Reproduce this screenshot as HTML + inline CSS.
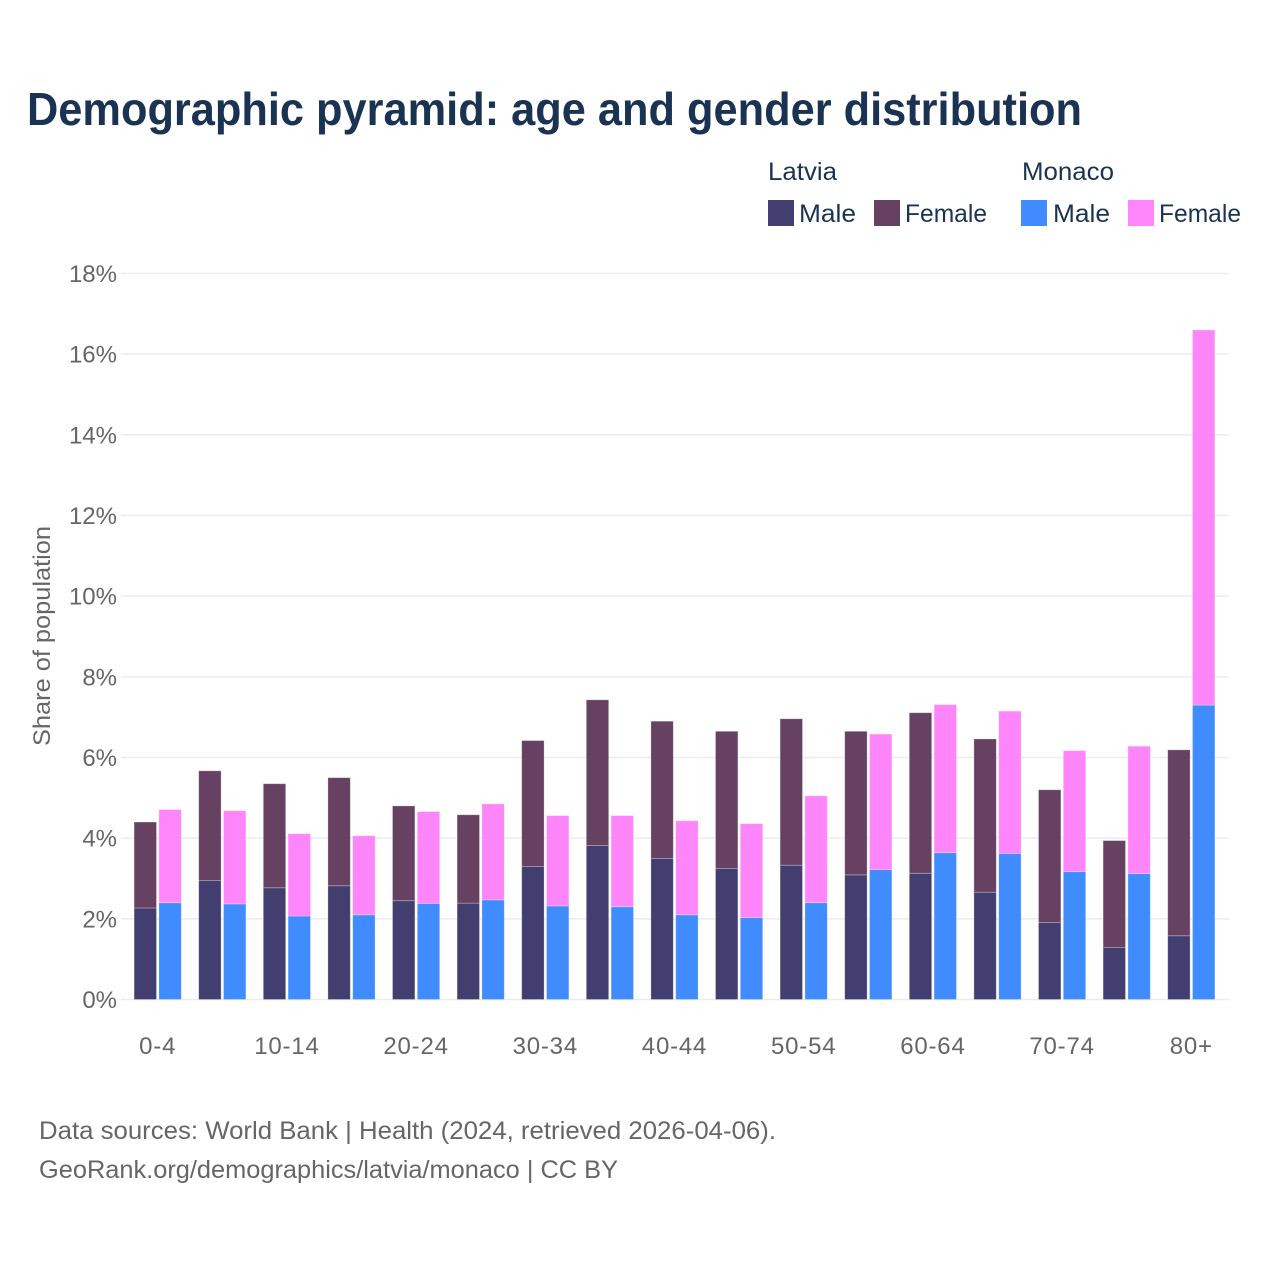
<!DOCTYPE html>
<html lang="en">
<head>
<meta charset="utf-8">
<title>Demographic pyramid: age and gender distribution</title>
<style>
html,body{margin:0;padding:0;background:#fff;width:1280px;height:1280px;overflow:hidden}
svg{display:block}
text{font-family:"Liberation Sans",sans-serif}
</style>
</head>
<body>
<svg id="chart" width="1280" height="1280" viewBox="0 0 1280 1280" xmlns="http://www.w3.org/2000/svg">
  <rect width="1280" height="1280" fill="#fff"/>
  <text x="27" y="125" font-size="46" font-weight="700" fill="#1a3353" textLength="1055" lengthAdjust="spacingAndGlyphs">Demographic pyramid: age and gender distribution</text>

  <g font-size="25" fill="#1a3353">
    <text x="768" y="180" textLength="69" lengthAdjust="spacingAndGlyphs">Latvia</text>
    <text x="1022" y="180" textLength="92" lengthAdjust="spacingAndGlyphs">Monaco</text>
    <rect x="768" y="200" width="26" height="26" fill="#423f70"/>
    <text x="799" y="222" textLength="57" lengthAdjust="spacingAndGlyphs">Male</text>
    <rect x="874" y="200" width="26" height="26" fill="#674162"/>
    <text x="905" y="222" textLength="82" lengthAdjust="spacingAndGlyphs">Female</text>
    <rect x="1021" y="200" width="26" height="26" fill="#408cff"/>
    <text x="1053" y="222" textLength="57" lengthAdjust="spacingAndGlyphs">Male</text>
    <rect x="1128" y="200" width="26" height="26" fill="#ff85fb"/>
    <text x="1159" y="222" textLength="82" lengthAdjust="spacingAndGlyphs">Female</text>
  </g>

  <g id="grid"></g>
  <g id="y-axis"></g>
  <g id="bars"></g>
  <g id="x-axis"></g>

  <text transform="translate(50,636) rotate(-90)" text-anchor="middle" font-size="24" fill="#666" textLength="220" lengthAdjust="spacingAndGlyphs">Share of population</text>

  <text x="39" y="1139" font-size="25" fill="#666" textLength="737" lengthAdjust="spacingAndGlyphs">Data sources: World Bank | Health (2024, retrieved 2026-04-06).</text>
  <text x="39" y="1178" font-size="25" fill="#666" textLength="579" lengthAdjust="spacingAndGlyphs">GeoRank.org/demographics/latvia/monaco | CC BY</text>
</svg>
<script>
var ageGroups = ["0-4","5-9","10-14","15-19","20-24","25-29","30-34","35-39","40-44","45-49","50-54","55-59","60-64","65-69","70-74","75-79","80+"];
var latviaMale = [2.27,2.95,2.77,2.82,2.45,2.39,3.30,3.82,3.50,3.25,3.33,3.09,3.13,2.66,1.91,1.29,1.58];
var latviaFemale = [2.13,2.72,2.58,2.68,2.35,2.19,3.12,3.61,3.40,3.40,3.63,3.56,3.98,3.80,3.29,2.65,4.61];
var monacoMale = [2.40,2.37,2.07,2.10,2.38,2.47,2.32,2.30,2.10,2.03,2.40,3.22,3.64,3.62,3.17,3.12,7.30];
var monacoFemale = [2.31,2.31,2.04,1.96,2.28,2.38,2.24,2.26,2.33,2.33,2.65,3.36,3.67,3.53,3.00,3.16,9.30];
var yTickValues = [0,2,4,6,8,10,12,14,16,18];

var svgNS = "http://www.w3.org/2000/svg";
var plotLeft = 121, plotRight = 1229;
var yZero = 999.5, yTop = 273.5, yMax = 18;
var bandFirstCenter = 157.7, bandStep = 64.6;
var barWidth = 22.4, barGap = 2.4;

function yScale(v) { return yZero - (v / yMax) * (yZero - yTop); }
function xBand(i) { return bandFirstCenter + i * bandStep; }
function make(tag, attrs) {
  var el = document.createElementNS(svgNS, tag);
  for (var k in attrs) el.setAttribute(k, attrs[k]);
  return el;
}

var grid = document.getElementById("grid");
var yAxis = document.getElementById("y-axis");
yTickValues.forEach(function (t) {
  var y = yScale(t);
  var line = make("line", {x1: plotLeft, x2: plotRight, y1: y, y2: y, stroke: "#ececec", "stroke-width": 1.5});
  
  
  grid.appendChild(line);
  var label = make("text", {x: 117, y: y + 8.5, "text-anchor": "end", "font-size": 24, fill: "#666"});
  
  
  label.textContent = t + "%";
  yAxis.appendChild(label);
});

var barsGroup = document.getElementById("bars");
function drawBar(x, base, value, color, name) {
  var top = yScale(base + value);
  var bottom = yScale(base);
  var r = make("rect", {x: x, y: top, width: barWidth, height: bottom - top, fill: color, stroke: "#fff", "stroke-opacity": 0.35, "stroke-width": 0.8});
  
  
  barsGroup.appendChild(r);
}
ageGroups.forEach(function (g, i) {
  var c = xBand(i);
  var xL = c - barWidth - barGap / 2;
  var xM = c + barGap / 2;
  drawBar(xL, 0, latviaMale[i], "#423f70", "bar-latvia-male");
  drawBar(xL, latviaMale[i], latviaFemale[i], "#674162", "bar-latvia-female");
  drawBar(xM, 0, monacoMale[i], "#408cff", "bar-monaco-male");
  drawBar(xM, monacoMale[i], monacoFemale[i], "#ff85fb", "bar-monaco-female");
});

var xAxis = document.getElementById("x-axis");
ageGroups.forEach(function (g, i) {
  if (i % 2 !== 0) return;
  var label = make("text", {x: xBand(i), y: 1054, "text-anchor": "middle", "font-size": 24, fill: "#666", "letter-spacing": 0.8});
  
  
  label.textContent = g;
  xAxis.appendChild(label);
});
</script>
</body>
</html>
